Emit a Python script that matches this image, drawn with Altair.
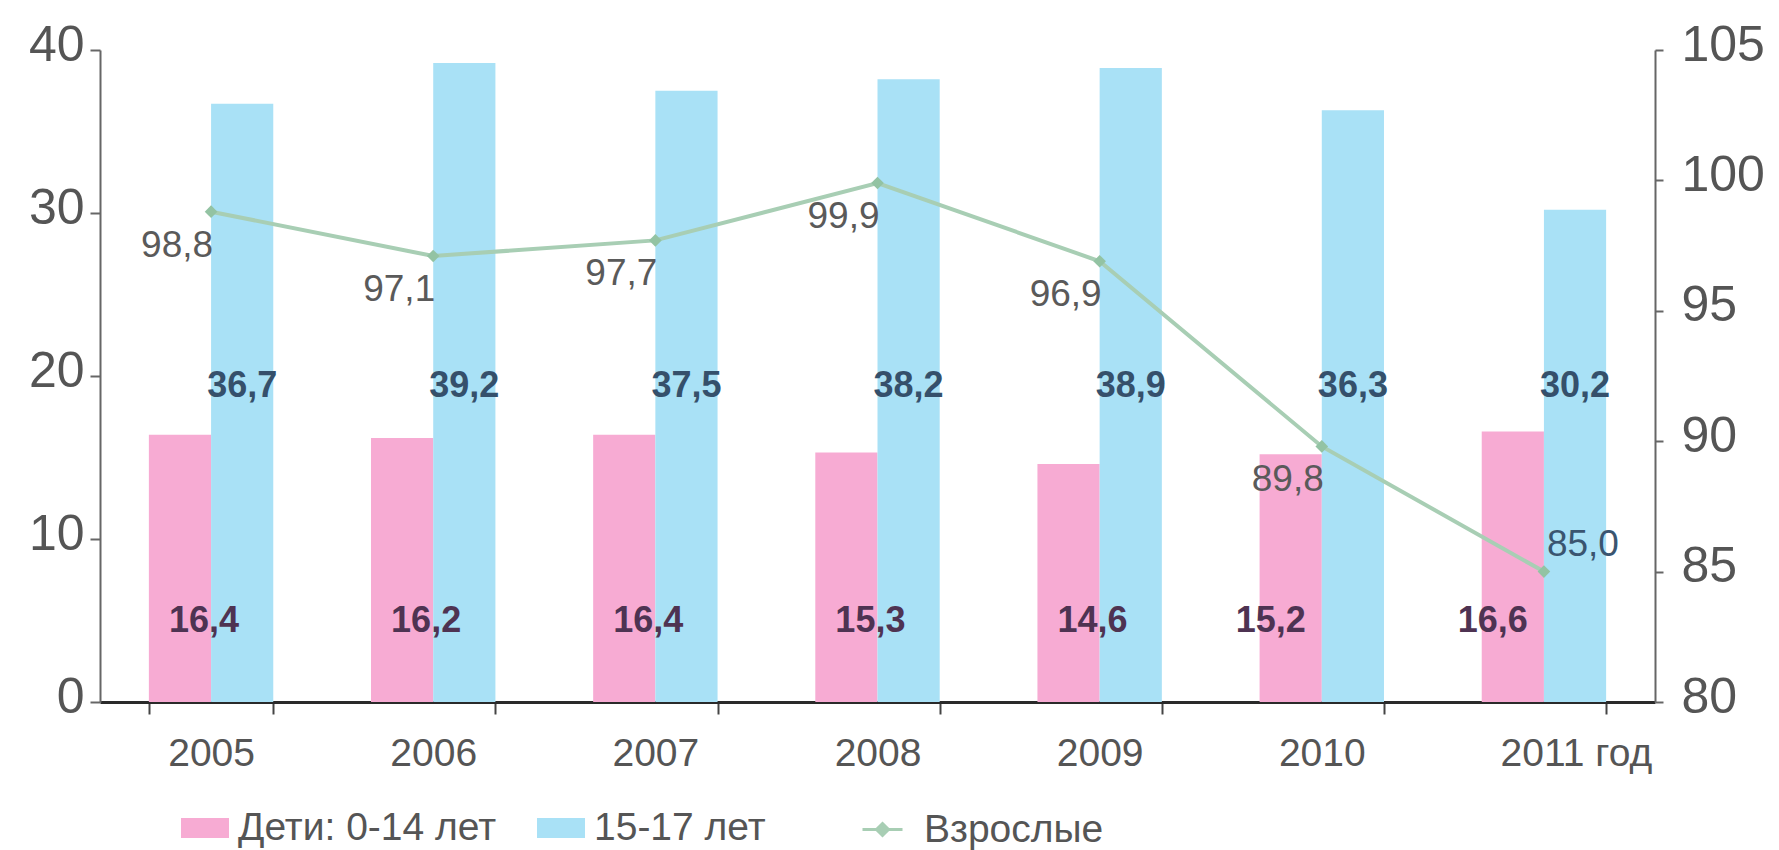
import altair as alt
import pandas as pd

# ---- data ----
years = ["2005", "2006", "2007", "2008", "2009", "2010", "2011"]
children = [16.4, 16.2, 16.4, 15.3, 14.6, 15.2, 16.6]
teens = [36.7, 39.2, 37.5, 38.2, 38.9, 36.3, 30.2]
adults = [98.8, 97.1, 97.7, 99.9, 96.9, 89.8, 85.0]
series_names = ["Дети: 0-14 лет", "15-17 лет"]
adult_name = "Взрослые"
left_ticks = [0, 10, 20, 30, 40]
right_ticks = [80, 85, 90, 95, 100, 105]
late_years = ["2010", "2011"]   # years whose child labels sit further left

bars_df = pd.DataFrame({
    "year": years * 2,
    "series": [series_names[0]] * len(years) + [series_names[1]] * len(years),
    "value": children + teens,
})
line_df = pd.DataFrame({"year": years, "value": adults, "series": [adult_name] * len(years)})

FONT = "Liberation Sans"
PINK = "#f7abd3"
BLUE = "#a9e1f6"
GREEN = "#a8ceb4"
GREEN_DARK = "#93c3a3"
AX = "#555555"

label_calc = "replace(format(datum.value, '.1f'), '.', ',')"

x_enc = alt.X(
    "year:N", sort=years,
    scale=alt.Scale(paddingInner=0.44, paddingOuter=0.22),
    axis=alt.Axis(
        title=None, labelFontSize=39, labelColor=AX, labelFont=FONT, labelAngle=0,
        domainColor="#2a2a2a", domainWidth=3, tickColor="#444444", tickWidth=2,
        tickSize=12, tickBand="extent", labelPadding=20,
        labelExpr="datum.value == '2011' ? '2011 год' : datum.label",
        labelOffset={"condition": {"test": "datum.value == '2011'", "value": 32}, "value": 0},
    ),
)
xoff = alt.XOffset("series:N", sort=series_names,
                   scale=alt.Scale(domain=series_names, paddingInner=0, paddingOuter=0))

left_scale = alt.Scale(domain=[0, 40], nice=False)
left_axis = alt.Axis(values=left_ticks, title=None, grid=False, labelFontSize=50,
                     labelFont=FONT, labelColor=AX, domainColor="#666666", domainWidth=2,
                     tickColor="#666666", tickWidth=2, tickSize=10, labelPadding=6,
                     labelOffset=-5)
right_scale = alt.Scale(domain=[80, 105], nice=False)
right_axis = alt.Axis(values=right_ticks, title=None, grid=False, orient="right",
                      labelFontSize=50, labelFont=FONT, labelColor=AX,
                      domainColor="#666666", domainWidth=2, tickColor="#666666",
                      tickWidth=2, tickSize=8, labelPadding=18, labelOffset=-5)

bars = alt.Chart(bars_df).mark_bar().encode(
    x=x_enc,
    xOffset=xoff,
    y=alt.Y("value:Q", scale=left_scale, axis=left_axis),
    fill=alt.Fill(
        "series:N", sort=series_names,
        scale=alt.Scale(domain=series_names, range=[PINK, BLUE]),
        legend=alt.Legend(
            title=None, orient="none", legendX=81, legendY=754, direction="horizontal",
            symbolType="M-1,-0.42L1,-0.42L1,0.42L-1,0.42Z", symbolSize=2304,
            symbolStrokeWidth=0, labelFontSize=39, labelFont=FONT, labelColor=AX,
            labelOffset=9, columnPadding=40, padding=0, labelLimit=600,
        ),
    ),
)


def child_text(early, dx):
    cond = alt.FieldOneOfPredicate(field="year", oneOf=late_years)
    base = alt.Chart(bars_df).transform_filter(alt.datum.series == series_names[0])
    base = base.transform_filter(~cond if early else cond)
    return base.transform_calculate(label=label_calc).mark_text(
        font=FONT, fontSize=36, fontWeight="bold", color="#4e3352", dx=dx, baseline="middle"
    ).encode(
        x=x_enc, xOffset=xoff,
        y=alt.YDatum(5.0, type="quantitative", scale=left_scale, axis=left_axis),
        text="label:N",
    )


pink_text_a = child_text(True, 24)
pink_text_b = child_text(False, -20)

blue_text = alt.Chart(bars_df).transform_filter(
    alt.datum.series == series_names[1]
).transform_calculate(label=label_calc).mark_text(
    font=FONT, fontSize=36, fontWeight="bold", color="#35506b", baseline="middle"
).encode(
    x=x_enc, xOffset=xoff,
    y=alt.YDatum(19.4, type="quantitative", scale=left_scale, axis=left_axis),
    text="label:N",
)

y_right = alt.Y("value:Q", scale=right_scale, axis=right_axis)

line = alt.Chart(line_df).mark_line(strokeWidth=4).encode(
    x=x_enc, y=y_right,
    stroke=alt.Stroke(
        "series:N",
        scale=alt.Scale(domain=[adult_name], range=[GREEN]),
        legend=alt.Legend(
            title=None, orient="none", legendX=761, legendY=758,
            symbolType="M-1,0L1,0M0,-0.3L0.3,0L0,0.3L-0.3,0Z", symbolSize=1600,
            symbolStrokeWidth=3, symbolFillColor=GREEN, labelFontSize=39,
            labelFont=FONT, labelColor=AX, labelOffset=20, padding=0, labelLimit=600,
        ),
    ),
)

pts = alt.Chart(line_df).mark_point(
    shape="diamond", filled=True, size=160, color=GREEN_DARK, opacity=1
).encode(x=x_enc, y=y_right)

line_text = alt.Chart(line_df).transform_filter(
    alt.datum.year != "2011"
).transform_calculate(label=label_calc).mark_text(
    font=FONT, fontSize=37, color="#5a5a5a", dx=-34, dy=34, baseline="middle"
).encode(x=x_enc, y=y_right, text="label:N")

line_text_last = alt.Chart(line_df).transform_filter(
    alt.datum.year == "2011"
).transform_calculate(label=label_calc).mark_text(
    font=FONT, fontSize=37, color="#3a5570", dx=39, dy=-27, baseline="middle"
).encode(x=x_enc, y=y_right, text="label:N")

left_layer = alt.layer(bars, pink_text_a, pink_text_b, blue_text)
right_layer = alt.layer(line, pts, line_text, line_text_last)

chart = alt.layer(left_layer, right_layer).resolve_scale(
    y="independent"
).properties(
    width=1555, height=652,
    autosize=alt.AutoSizeParams(type="none"),
    padding={"left": 100, "top": 50, "right": 124, "bottom": 148},
    background="white",
).configure_view(stroke=None)

chart.save("out.html", embed_options={"renderer": "svg", "actions": False})
